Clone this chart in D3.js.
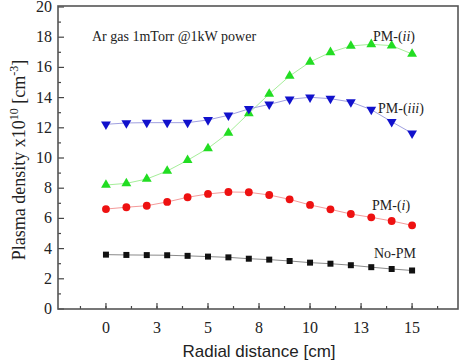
<!DOCTYPE html>
<html lang="en">
<head>
<meta charset="UTF-8" />
<title>Plasma density</title>
<script src="https://d3js.org/d3.v7.min.js"></script>
<style>
  body { margin: 0; background: #fff; }
  text { font-family: "Liberation Serif", "Times New Roman", "DejaVu Serif", serif; fill: #222; }
</style>
</head>
<body>
<div id="chart"></div>
<script>
// radial positions (cm)
var radius = [0, 1, 2, 3, 4, 5, 6, 7, 8, 9, 10, 11, 12, 13, 14, 15]

// plasma density x10^10 cm^-3
var noPM   = [3.6, 3.58, 3.57, 3.56, 3.52, 3.47, 3.42, 3.33, 3.27, 3.18, 3.07, 3.0, 2.9, 2.77, 2.65, 2.55]
var pmI    = [6.62, 6.74, 6.84, 7.09, 7.40, 7.62, 7.75, 7.73, 7.55, 7.26, 6.89, 6.60, 6.29, 6.07, 5.83, 5.54]
var pmII   = [8.21, 8.32, 8.61, 9.14, 9.85, 10.64, 11.66, 12.96, 14.24, 15.43, 16.36, 17.0, 17.42, 17.53, 17.44, 16.89]
var pmIII  = [12.23, 12.32, 12.34, 12.34, 12.34, 12.52, 12.83, 13.25, 13.55, 13.89, 14.02, 13.93, 13.71, 13.2, 12.4, 11.64]

var xTicks = [0, 2.5, 5, 7.5, 10, 12.5, 15]
var xTickLabels = ["0", "3", "5", "8", "10", "13", "15"]
var yTicks = [0, 2, 4, 6, 8, 10, 12, 14, 16, 18, 20]

var width = 465, height = 363
var pLeft = 58, pRight = 458, pTop = 6, pBottom = 309

var svg = d3.select("#chart").append("svg")
  .attr("width", width)
  .attr("height", height)

var x = d3.scaleLinear().domain([-2.35, 17.25]).range([pLeft, pRight])
var y = d3.scaleLinear().domain([0, 20]).range([pBottom, pTop + 1])

// minor ticks
var xMinor = d3.range(-1.25, 17, 1.25)
var yMinor = d3.range(1, 20, 2)

svg.append("g").selectAll("line").data(xMinor).join("line")
  .attr("x1", d => x(d)).attr("x2", d => x(d))
  .attr("y1", pBottom).attr("y2", pBottom - 3)
  .attr("stroke", "#444").attr("stroke-width", 1.2)
svg.append("g").selectAll("line").data(xTicks).join("line")
  .attr("x1", d => x(d)).attr("x2", d => x(d))
  .attr("y1", pBottom).attr("y2", pBottom - 6)
  .attr("stroke", "#444").attr("stroke-width", 1.2)
svg.append("g").selectAll("line").data(yMinor).join("line")
  .attr("x1", pLeft).attr("x2", pLeft + 3)
  .attr("y1", d => y(d)).attr("y2", d => y(d))
  .attr("stroke", "#444").attr("stroke-width", 1.2)
svg.append("g").selectAll("line").data(yTicks).join("line")
  .attr("x1", pLeft).attr("x2", pLeft + 6)
  .attr("y1", d => y(d)).attr("y2", d => y(d))
  .attr("stroke", "#444").attr("stroke-width", 1.2)

// tick labels
svg.append("g").selectAll("text").data(xTicks).join("text")
  .attr("x", d => x(d)).attr("y", 333)
  .attr("text-anchor", "middle")
  .style("font-size", "16px")
  .text((d, i) => xTickLabels[i])
svg.append("g").selectAll("text").data(yTicks).join("text")
  .attr("x", 52).attr("y", d => y(d) + 5)
  .attr("text-anchor", "end")
  .style("font-size", "16px")
  .text(d => d)

// frame
svg.append("rect")
  .attr("x", pLeft).attr("y", pTop)
  .attr("width", pRight - pLeft).attr("height", pBottom - pTop)
  .attr("fill", "none").attr("stroke", "#555").attr("stroke-width", 1.6)

var series = [
  { vals: noPM,  line: "#8a8a8a", fill: "#111111", shape: d3.symbolSquare,   size: 36 },
  { vals: pmI,   line: "#f49a9a", fill: "#ee1111", shape: d3.symbolCircle,   size: 48 },
  { vals: pmII,  line: "#a6ee9a", fill: "#22dd22", shape: d3.symbolTriangle, size: 42 },
  { vals: pmIII, line: "#a0a0e0", fill: "#1111cc", shape: d3.symbolTriangle, size: 42, flip: true }
]

var line = d3.line()
  .x((d, i) => x(radius[i]))
  .y(d => y(d))

series.forEach(function(s) {
  svg.append("path")
    .attr("d", line(s.vals))
    .attr("fill", "none")
    .attr("stroke", s.line)
    .attr("stroke-width", 1)

  svg.append("g").selectAll("path").data(s.vals).join("path")
    .attr("d", d3.symbol().type(s.shape).size(s.size))
    .attr("transform", (d, i) => "translate(" + x(radius[i]) + "," + y(d) + ")" + (s.flip ? " rotate(180)" : ""))
    .attr("fill", s.fill)
})

// annotations
svg.append("text").attr("x", 92).attr("y", 41)
  .style("font-size", "14px").text("Ar gas 1mTorr @1kW power")

function label(xp, yp, main, it) {
  var t = svg.append("text").attr("x", xp).attr("y", yp).style("font-size", "14px")
  t.append("tspan").text(main)
  if (it) {
    t.append("tspan").style("font-style", "italic").text(it)
    t.append("tspan").text(")")
  }
}
label(373, 41, "PM-(", "ii")
label(378, 113, "PM-(", "iii")
label(372, 210, "PM-(", "i")
label(374, 258, "No-PM")

// axis titles
svg.append("text")
  .attr("x", 259).attr("y", 357)
  .attr("text-anchor", "middle")
  .style("font-family", "'Liberation Sans', Arial, sans-serif")
  .style("font-size", "17px")
  .text("Radial distance [cm]")

var yt = svg.append("text")
  .attr("transform", "translate(25,160) rotate(-90)")
  .attr("text-anchor", "middle")
  .style("font-size", "18px")
yt.append("tspan").text("Plasma density x10")
yt.append("tspan").attr("dy", -7).style("font-size", "12px").text("10")
yt.append("tspan").attr("dy", 7).text(" [cm")
yt.append("tspan").attr("dy", -7).style("font-size", "12px").text("-3")
yt.append("tspan").attr("dy", 7).text("]")
</script>
</body>
</html>
